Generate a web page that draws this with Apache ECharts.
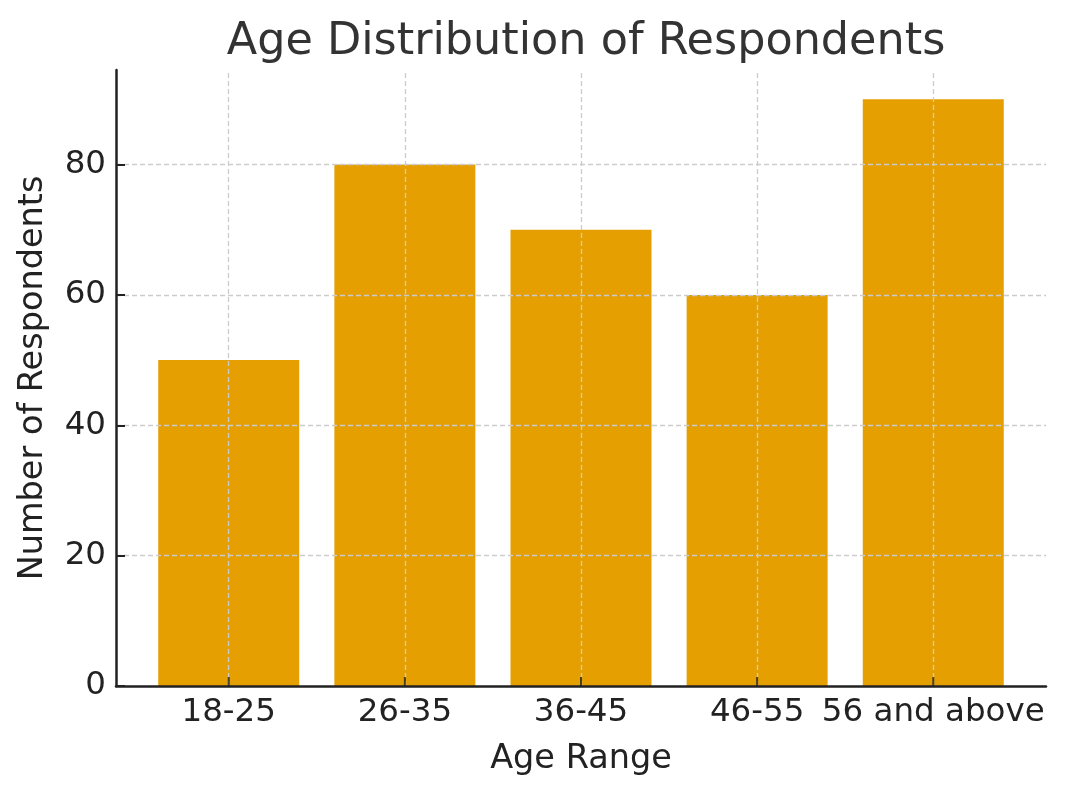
<!DOCTYPE html>
<html><head><meta charset="utf-8">
<script src="https://cdn.jsdelivr.net/npm/echarts@6/dist/echarts.min.js"></script>
<style>html,body{margin:0;padding:0;background:#fff}#c{width:1068px;height:793px}</style>
</head><body><div id="c"></div>
<script>
const categories = ['18-25', '26-35', '36-45', '46-55', '56 and above'];
const respondents = [50, 80, 70, 60, 90];
const yTicks = [0, 20, 40, 60, 80];
const xPositions = categories.map((_, i) => i);

const font = 'DejaVu Sans';
const gridStyle = {color: '#cccccc', width: 1.3, type: [5, 3]};
const tickStyle = {color: '#222222', width: 2};
const chart = echarts.init(document.getElementById('c'));
chart.setOption({
  animation: false,
  backgroundColor: '#ffffff',
  title: {
    text: 'Age Distribution of Respondents',
    left: 581, top: 15, textAlign: 'center',
    textStyle: {fontFamily: font, fontSize: 44.5, fontWeight: 'normal', color: '#333333'}
  },
  grid: {left: 116, right: 22, top: 70, bottom: 107},
  xAxis: {
    type: 'value', min: -0.64, max: 4.64, zlevel: 1,
    name: 'Age Range', nameLocation: 'middle', nameGap: 56,
    nameTextStyle: {fontFamily: font, fontSize: 33.5, color: '#222222'},
    axisLine: {show: true, onZero: false, lineStyle: {color: '#222222', width: 2.5}},
    axisTick: {show: false},
    axisLabel: {customValues: xPositions, fontFamily: font, fontSize: 32.5, color: '#222222', margin: 10,
      formatter: v => categories[Math.round(v)] || ''},
    splitLine: {show: false}
  },
  yAxis: {
    type: 'value', min: 0, max: 94.5, interval: 20, zlevel: 1,
    name: 'Number of Respondents', nameLocation: 'middle', nameGap: 66,
    nameTextStyle: {fontFamily: font, fontSize: 33.5, color: '#222222'},
    axisLine: {show: true, onZero: false, lineStyle: {color: '#222222', width: 2.5}},
    axisTick: {show: true, inside: true, length: 9, lineStyle: tickStyle},
    axisLabel: {fontFamily: font, fontSize: 32.5, color: '#222222', margin: 10, showMaxLabel: false,
      formatter: v => (yTicks.indexOf(v) >= 0 ? String(v) : '')},
    splitLine: {show: true, showMinLine: false, showMaxLine: false, lineStyle: gridStyle}
  },
  series: [{
    type: 'bar',
    data: respondents.map((v, i) => [xPositions[i], v]),
    barWidth: 141,
    itemStyle: {color: '#E69F00'}
  }, {
    type: 'scatter', zlevel: 1, z: 10, silent: true,
    data: xPositions.map(x => [x, 0]),
    symbol: 'rect', symbolSize: [2, 9], symbolOffset: [0, -4.5],
    itemStyle: {color: '#222222'},
    clip: false,
    markLine: {
      silent: true, symbol: 'none',
      label: {show: false},
      lineStyle: gridStyle,
      data: xPositions.map(x => ({xAxis: x}))
    }
  }]
});
</script></body></html>
